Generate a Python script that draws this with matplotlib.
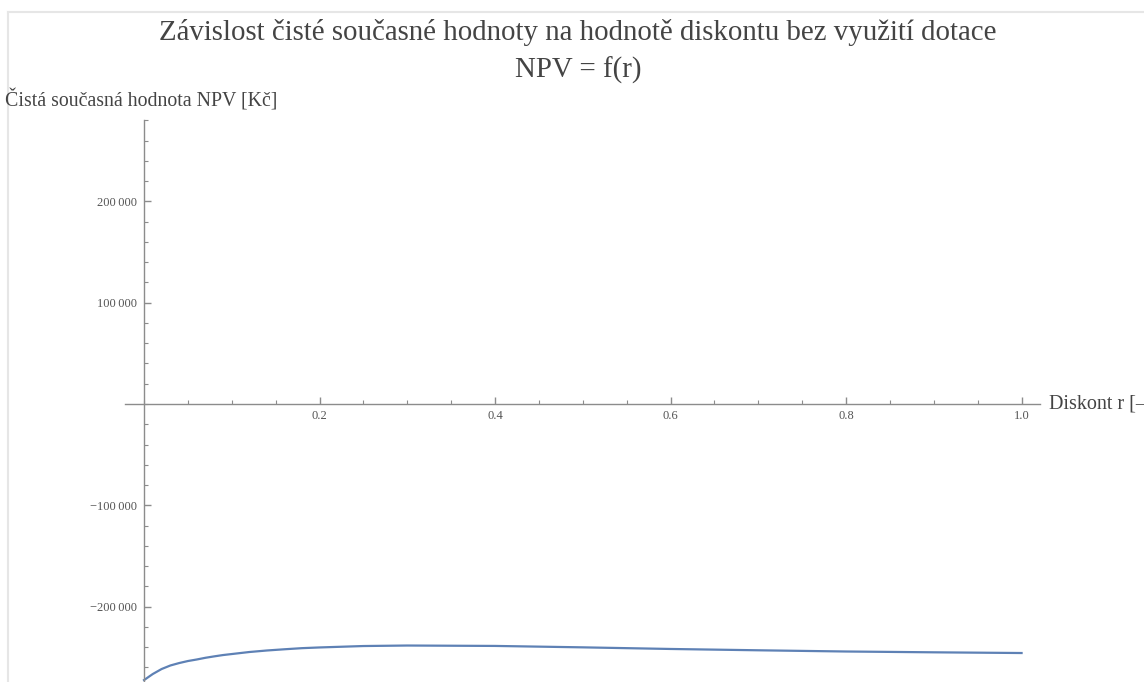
import numpy as np
import matplotlib.pyplot as plt
from matplotlib.ticker import MultipleLocator, FixedLocator, FuncFormatter

# discount rate r [-] and net present value NPV [Kc] without subsidy
diskont = [0.0, 0.01, 0.02, 0.03, 0.04, 0.05, 0.06, 0.07, 0.08, 0.09, 0.10,
           0.12, 0.14, 0.16, 0.18, 0.20, 0.25, 0.30, 0.40, 0.50, 0.60, 0.70,
           0.80, 0.90, 1.00]
npv = [-272500, -266500, -261600, -258100, -255700, -253700, -252200, -250500,
       -249100, -247800, -246800, -244800, -243300, -242100, -241000, -240300,
       -238900, -238400, -238800, -240200, -241800, -243100, -244300, -245100,
       -245800]

y_major = [-200000, -100000, 100000, 200000]
x_major = [0.2, 0.4, 0.6, 0.8, 1.0]

plt.rcParams['font.family'] = ['Liberation Serif', 'DejaVu Serif']

fig = plt.figure(figsize=(11.44, 6.82), dpi=100)
ax = fig.add_axes([125 / 1144, 0, 915 / 1144, 562 / 682])

ax.plot(diskont, npv, color='#5E81B5', lw=1.6, solid_joinstyle='round')

ax.set_xlim(-0.0217, 1.021)
ax.set_ylim(-274400, 280300)

# axes crossing at the origin
axis_col = '#8c8c8c'
for s in ['top', 'right']:
    ax.spines[s].set_visible(False)
ax.spines['left'].set_position(('data', 0))
ax.spines['bottom'].set_position(('data', 0))
for s in ['left', 'bottom']:
    ax.spines[s].set_color(axis_col)
    ax.spines[s].set_linewidth(1.0)

ax.xaxis.set_major_locator(FixedLocator(x_major))
ax.xaxis.set_minor_locator(MultipleLocator(0.05))
ax.yaxis.set_major_locator(FixedLocator(y_major))
ax.yaxis.set_minor_locator(MultipleLocator(20000))

def fmt_y(v, pos):
    s = f"{abs(int(v)):,}".replace(',', '\u2009')
    return ('\u2212' + s) if v < 0 else s

ax.yaxis.set_major_formatter(FuncFormatter(fmt_y))
ax.xaxis.set_major_formatter(FuncFormatter(lambda v, p: f"{v:.1f}"))

ax.tick_params(which='both', direction='in', colors=axis_col, labelcolor='#555555',
               labelsize=9)
ax.tick_params(axis='y', which='major', length=5, width=1.0, pad=5)
ax.tick_params(axis='y', which='minor', length=3, width=0.8)
ax.tick_params(axis='x', which='major', length=5, width=1.0, pad=4)
ax.tick_params(axis='x', which='minor', length=3, width=0.8)

# axis labels in Mathematica style
ax.text(1.031, 0, 'Diskont r [\u2013]', fontsize=14.5, color='#444444',
        va='center', ha='left', clip_on=False, transform=ax.transData)
fig.text(5 / 1144, 1 - 100 / 682, 'Čistá současná hodnota NPV [Kč]', fontsize=14.3,
         color='#444444', va='center', ha='left')

fig.text(578 / 1144, 1 - 32 / 682,
         'Závislost čisté současné hodnoty na hodnotě diskontu bez využití dotace',
         fontsize=20.8, color='#444444', ha='center', va='center')
fig.text(578 / 1144, 1 - 70 / 682, 'NPV = f(r)', fontsize=20.8, color='#444444',
         ha='center', va='center')

# light frame around the notebook cell
fig.add_artist(plt.Line2D([8 / 1144, 8 / 1144], [0, 1 - 12 / 682],
                          transform=fig.transFigure, color='#e6e6e6', lw=1.5))
fig.add_artist(plt.Line2D([8 / 1144, 1], [1 - 12 / 682, 1 - 12 / 682],
                          transform=fig.transFigure, color='#e6e6e6', lw=1.5))

fig.savefig('out.png', dpi=100)
